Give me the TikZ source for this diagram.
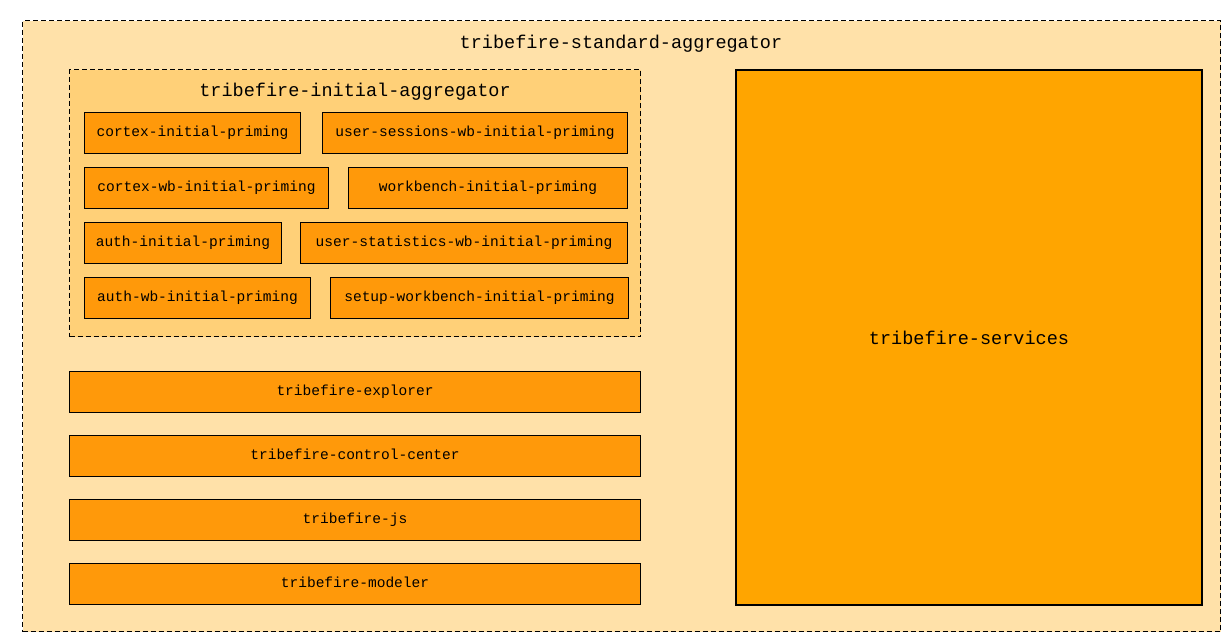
\documentclass[tikz,border=0pt]{standalone}
\usepackage{fontspec}
\usepackage{tikz}
\setmonofont{Liberation Mono}
\definecolor{Outer}{HTML}{FFE1A9}
\definecolor{Initial}{HTML}{FFD078}
\definecolor{Leaf}{HTML}{FF990A}
\definecolor{Services}{HTML}{FFA500}

\tikzset{
	group/.style={draw,dash pattern=on 3.75pt off 2.25pt,line width=0.75pt,anchor=north west,inner sep=0pt},
	leaf/.style={draw,fill=Leaf,line width=0.75pt,anchor=north west,inner sep=0pt,minimum height=41*0.75pt,text height=0.75em,text depth=0.25em,font=\ttfamily\fontsize{10.9}{12}\selectfont},
	title/.style={text height=0.75em,text depth=0.25em,font=\ttfamily\fontsize{13.9}{15}\selectfont}
}

\begin{document}
\begin{tikzpicture}[x=0.75pt,y=-0.75pt]
\useasboundingbox (0,0) rectangle (1227,637);

\node [group,fill=Outer,minimum width=1198*0.75pt,minimum height=611*0.75pt] (standard) at (22,20) {};
\node [title] (standardtitle) at (621,45) {tribefire-standard-aggregator};

\node [group,fill=Initial,minimum width=571*0.75pt,minimum height=267*0.75pt] (initial) at (69,69) {};
\node [title] (initialtitle) at (355,93) {tribefire-initial-aggregator};

\node [leaf,minimum width=216*0.75pt] (cortexip) at (84,112) {cortex-initial-priming};
\node [leaf,minimum width=305*0.75pt] (usersessions) at (322,112) {user-sessions-wb-initial-priming};
\node [leaf,minimum width=244*0.75pt] (cortexwb) at (84,167) {cortex-wb-initial-priming};
\node [leaf,minimum width=279*0.75pt] (workbench) at (348,167) {workbench-initial-priming};
\node [leaf,minimum width=197*0.75pt] (authip) at (84,222) {auth-initial-priming};
\node [leaf,minimum width=327*0.75pt] (userstats) at (300,222) {user-statistics-wb-initial-priming};
\node [leaf,minimum width=226*0.75pt] (authwb) at (84,277) {auth-wb-initial-priming};
\node [leaf,minimum width=298*0.75pt] (setupwb) at (330,277) {setup-workbench-initial-priming};

\node [leaf,minimum width=571*0.75pt] (explorer) at (69,371) {tribefire-explorer};
\node [leaf,minimum width=571*0.75pt] (controlcenter) at (69,435) {tribefire-control-center};
\node [leaf,minimum width=571*0.75pt] (js) at (69,499) {tribefire-js};
\node [leaf,minimum width=571*0.75pt] (modeler) at (69,563) {tribefire-modeler};

\node [draw,fill=Services,line width=1.5pt,anchor=north west,inner sep=0pt,minimum width=466*0.75pt,minimum height=535*0.75pt,font=\ttfamily\fontsize{13.9}{15}\selectfont] (services) at (735,69) {tribefire-services};
\end{tikzpicture}
\end{document}
